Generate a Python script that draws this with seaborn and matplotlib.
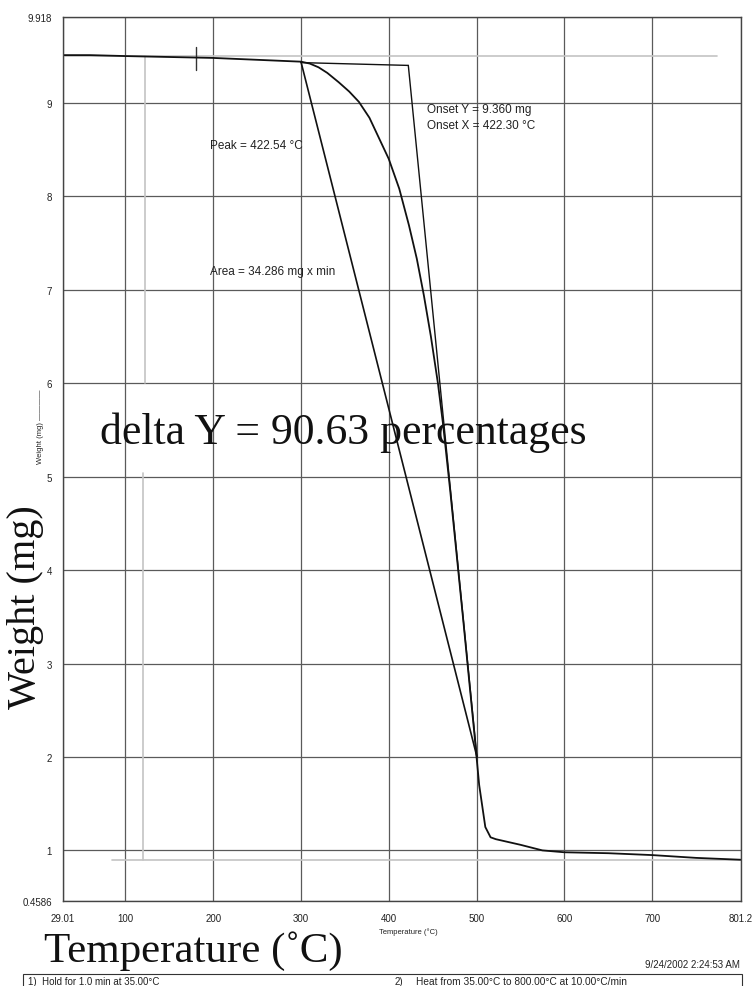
import matplotlib
matplotlib.use("Agg")
import matplotlib.pyplot as plt
import matplotlib.patches as mpatches
import seaborn as sns

# ---- data ----
temperature = [29.01, 60, 100, 150, 200, 250, 300, 310, 320, 330, 343, 355, 366, 378,
               389, 400, 412, 423, 432, 440, 448, 456, 462, 470, 485, 497, 503, 510,
               516, 522, 550, 575, 600, 650, 700, 750, 801.2]
weight = [9.51, 9.51, 9.50, 9.49, 9.48, 9.46, 9.44, 9.42, 9.38, 9.32, 9.22, 9.12, 9.01, 8.84,
          8.62, 8.40, 8.08, 7.69, 7.33, 6.94, 6.50, 6.00, 5.55, 4.85, 3.45, 2.30, 1.70, 1.25,
          1.14, 1.12, 1.06, 1.00, 0.98, 0.97, 0.95, 0.92, 0.90]

baseline_temp = [300.0, 422.3]
baseline_weight = [9.43, 9.40]
tangent_temp = [422.3, 500.5]
tangent_weight = [9.40, 2.0]
peak_temp = [300.0, 500.5]
peak_weight = [9.44, 2.0]

# light grey guide lines of the instrument print
guide_top_temp = [29.01, 774]
guide_top_weight = [9.50, 9.50]
guide_v1_temp = [122, 122]
guide_v1_weight = [9.50, 6.00]
guide_v2_temp = [120, 120]
guide_v2_weight = [5.04, 0.90]
guide_bottom_temp = [85, 801.2]
guide_bottom_weight = [0.90, 0.90]
marker_temp = [180, 180]
marker_weight = [9.60, 9.35]

x_ticks = [29.01, 100, 200, 300, 400, 500, 600, 700, 801.2]
x_tick_labels = ["29.01", "100", "200", "300", "400", "500", "600", "700", "801.2"]
y_ticks = [0.4586, 1, 2, 3, 4, 5, 6, 7, 8, 9, 9.918]
y_tick_labels = ["0.4586", "1", "2", "3", "4", "5", "6", "7", "8", "9", "9.918"]

sns.set_style("white")
plt.rcParams['font.family'] = ['Liberation Sans', 'DejaVu Sans']

W, H = 752, 987
fig = plt.figure(figsize=(W / 100, H / 100), dpi=100)
fig.patch.set_facecolor("white")
ax = fig.add_axes([63 / W, 1 - 902 / H, (741 - 63) / W, (902 - 18) / H])

ax.set_xlim(29.01, 801.2)
ax.set_ylim(0.4586, 9.918)
ax.set_xticks(x_ticks, x_tick_labels)
ax.set_yticks(y_ticks, y_tick_labels)
ax.tick_params(axis='both', labelsize=7, direction='out', length=2.5, width=0.8,
               color='#333333', labelcolor='#222222')
ax.tick_params(axis='y', pad=5.5)
ax.tick_params(axis='x', pad=6)
ax.grid(True, color='#5a5a5a', lw=0.9)
ax.set_axisbelow(True)
for s in ax.spines.values():
    s.set_color('#444444')
    s.set_linewidth(1.0)

grey = '#c4c4c4'
for gt, gw in [(guide_top_temp, guide_top_weight), (guide_v1_temp, guide_v1_weight),
               (guide_v2_temp, guide_v2_weight), (guide_bottom_temp, guide_bottom_weight)]:
    sns.lineplot(x=gt, y=gw, color=grey, lw=1.2, ax=ax, sort=False, estimator=None)

sns.lineplot(x=marker_temp, y=marker_weight, color='#333333', lw=1.0, ax=ax,
             sort=False, estimator=None)
sns.lineplot(x=baseline_temp, y=baseline_weight, color='#111111', lw=1.0, ax=ax,
             sort=False, estimator=None)
sns.lineplot(x=tangent_temp, y=tangent_weight, color='#111111', lw=1.0, ax=ax,
             sort=False, estimator=None)
sns.lineplot(x=peak_temp, y=peak_weight, color='#111111', lw=1.2, ax=ax,
             sort=False, estimator=None)
sns.lineplot(x=temperature, y=weight, color='#111111', lw=1.3, ax=ax,
             sort=False, estimator=None)
ax.set_xlabel("")
ax.set_ylabel("")

# annotations
ax.text(443.7, 8.936, "Onset Y = 9.360 mg", fontsize=8.5, va='center', ha='left', color='#222222')
ax.text(443.7, 8.765, "Onset X = 422.30 °C", fontsize=8.5, va='center', ha='left', color='#222222')
ax.text(196, 8.55, "Peak = 422.54 °C", fontsize=8.5, va='center', ha='left', color='#222222')
ax.text(196, 7.20, "Area = 34.286 mg x min", fontsize=8.5, va='center', ha='left', color='#222222')

serif = ['Liberation Serif', 'DejaVu Serif']
fig.text(100 / W, 1 - 444 / H, "delta Y = 90.63 percentages", fontsize=31.5,
         family=serif, va='baseline', ha='left', color='#111111')
fig.text(44 / W, 1 - 962 / H, "Temperature (˚C)", fontsize=31,
         family=serif, va='baseline', ha='left', color='#111111')
fig.text(26 / W, 1 - 607 / H, "Weight (mg)", fontsize=29, family=serif,
         rotation=90, va='center', ha='center', color='#111111')

# small instrument axis labels
fig.text(408 / W, 1 - 932 / H, "Temperature (°C)", fontsize=5.5, va='center',
         ha='center', color='#222222')
fig.text(40 / W, 1 - 427 / H, "Weight (mg) ————", fontsize=5.5, rotation=90,
         va='center', ha='center', color='#222222')

# footer
fig.text(740 / W, 1 - 965 / H, "9/24/2002 2:24:53 AM", fontsize=7, va='center',
         ha='right', color='#222222')
box = mpatches.Rectangle((23 / W, -0.01), (742 - 23) / W, (987 - 975) / H + 0.01,
                         transform=fig.transFigure, fill=False, lw=0.8,
                         edgecolor='#333333')
fig.patches.append(box)
fig.text(28 / W, 1 - 982 / H, "1)  Hold for 1.0 min at 35.00°C", fontsize=7,
         va='center', ha='left', color='#222222')
fig.text(395 / W, 1 - 982 / H, "2)", fontsize=7, va='center', ha='left', color='#222222')
fig.text(416 / W, 1 - 982 / H, "Heat from 35.00°C to 800.00°C at 10.00°C/min",
         fontsize=7.3, va='center', ha='left', color='#222222')

fig.savefig("out.png", dpi=100, facecolor='white')
